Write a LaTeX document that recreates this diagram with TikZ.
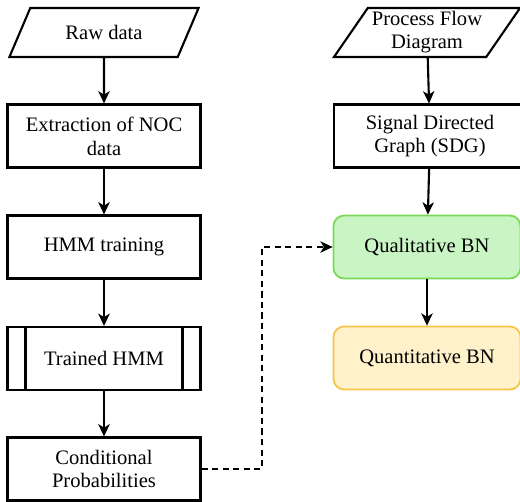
\documentclass[tikz,border=0pt]{standalone}
\usepackage{fontspec}
\setmainfont{Liberation Serif}
\newfontfamily\boxfont{Liberation Serif}
\usepackage{xcolor}
\usetikzlibrary{arrows.meta,shapes,calc}
\definecolor{qualfill}{RGB}{201,245,197}
\definecolor{qualline}{RGB}{122,216,84}
\definecolor{quanfill}{RGB}{255,241,202}
\definecolor{quanline}{RGB}{246,197,70}

\begin{document}
\begin{tikzpicture}[x=0.02cm, y=-0.02cm, >={Stealth[length=7pt,width=6.5pt,inset=2pt]}, font=\boxfont\fontsize{11.7}{13.6}\selectfont, box node/.style={rectangle, draw, line width=1.2pt, minimum width=3.86cm, minimum height=1.26cm, align=center, inner sep=1pt}, io node/.style={trapezium, trapezium left angle=53, trapezium right angle=127, trapezium stretches=true, draw, line width=1.2pt, minimum width=3.8cm, minimum height=0.98cm, align=center, inner sep=0pt}, bn node/.style={rectangle, rounded corners=6pt, line width=1pt, minimum width=3.74cm, minimum height=1.26cm, align=center}, flow/.style={->, line width=1.2pt}]
\useasboundingbox (0,0) rectangle (520,501);
% left column
\node[io node] (1) at (104,32.5) {Raw data};
\node[box node] (2) at (104,136) {Extraction of NOC\\data};
\node[box node] (3) at (104,247) {HMM training};
\node[box node] (4) at (104,358.5) {Trained HMM};
\node[box node] (5) at (104,469) {Conditional\\Probabilities};
\draw[line width=1.2pt] ([xshift=0.38cm]4.north west) -- ([xshift=0.38cm]4.south west);
\draw[line width=1.2pt] ([xshift=-0.38cm]4.north east) -- ([xshift=-0.38cm]4.south east);
% right column
\node[io node, minimum width=3.74cm] (6) at (427,32.5) {Process Flow\\[-0.5pt]Diagram};
\node[box node, minimum width=3.84cm] (7) at (430,136) {Signal Directed\\Graph (SDG)};
\node[bn node, draw=qualline, fill=qualfill] (8) at (427,247) {Qualitative BN};
\node[bn node, draw=quanline, fill=quanfill] (9) at (427,358) {Quantitative BN};
\coordinate (b) at (262,469);
\path[flow]
(1) edge (2)
(2) edge (3)
(3) edge (4)
(4) edge (5)
(6) edge (7)
(7) edge (8)
(8) edge (9);
\draw[->, line width=0.9pt, dash pattern=on 3.5pt off 2.5pt] (5.east) -- (b) |- (8.west);
\end{tikzpicture}
\end{document}
